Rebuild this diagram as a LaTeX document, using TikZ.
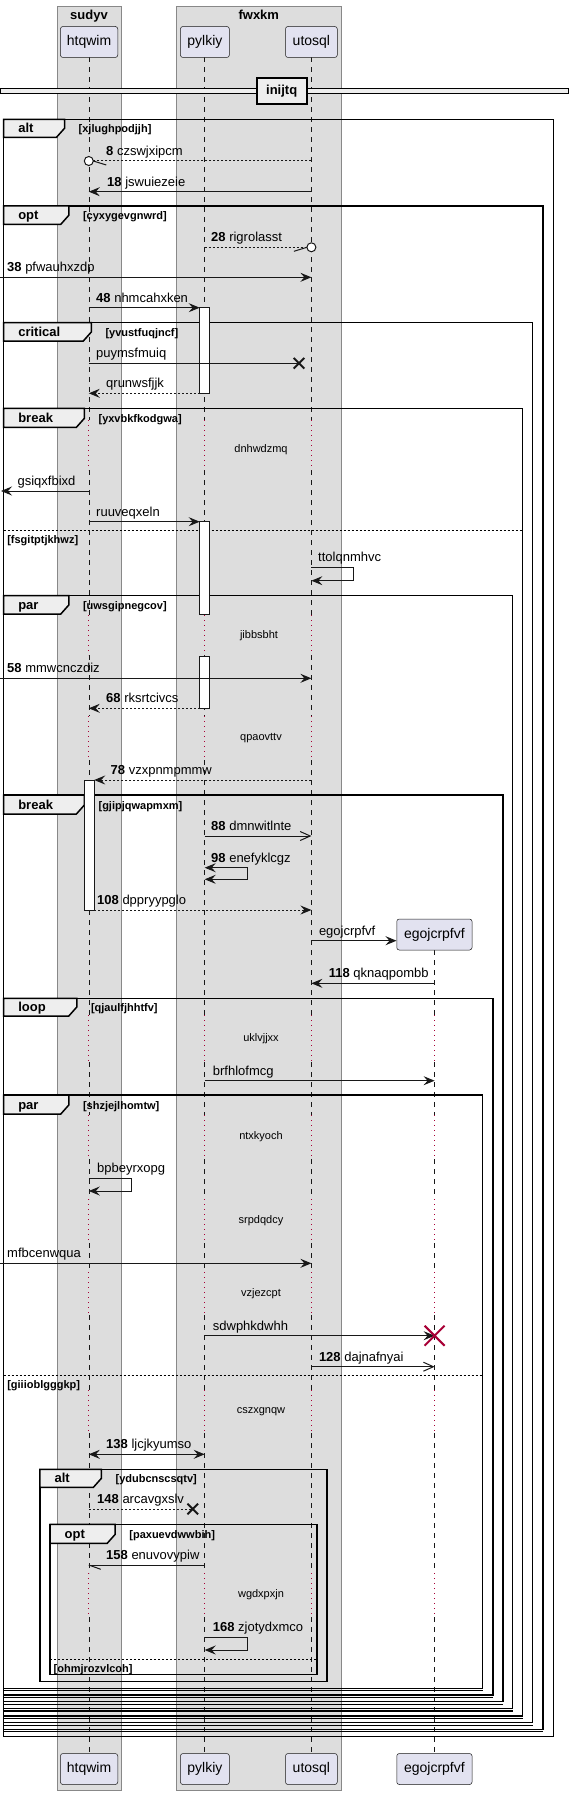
\documentclass[tikz,border=0pt]{standalone}
\usepackage{fontspec}
\setmainfont{Liberation Sans}
\usetikzlibrary{arrows.meta,calc}
\definecolor{grpfill}{HTML}{DDDDDD}
\definecolor{grpline}{HTML}{888888}
\definecolor{partfill}{HTML}{E2E2F0}
\definecolor{ink}{HTML}{181818}
\definecolor{tabfill}{HTML}{EEEEEE}
\definecolor{delayred}{HTML}{A80036}
\newcommand\fmsg{\fontsize{13}{15}\selectfont}
\newcommand\fpart{\fontsize{14}{16}\selectfont}
\newcommand\fsmall{\fontsize{11}{13}\selectfont}
% L T R B tabR tabB label cond name
\newcommand\grpframe[9]{%
  \draw[frm] (#1,#2) rectangle (#3,#4);
  \filldraw[frm,fill=tabfill] (#1,#2) -- (#5,#2) -- (#5,#6-9) -- (#5-8,#6) -- (#1,#6) -- cycle;
  \node[frlab] (#9l) at (#1+14.5,#6-5) {#7};
  \node[frcond] (#9c) at (#5+14,#6-5) {#8};
}
\newcommand\elseline[5]{% L R y label name
  \draw[elsel] (#1,#3) -- (#2,#3);
  \node[frcond] (#5) at (#1+3.5,#3+13) {#4};
}
\begin{document}
\begin{tikzpicture}[x=1pt,y=-1pt,
  grpbox/.style={draw=grpline,fill=grpfill,line width=1pt},
  grptitle/.style={font=\fmsg\bfseries,anchor=base,inner sep=0pt},
  part/.style={draw=ink,fill=partfill,rounded corners=2.5pt,line width=0.5pt,minimum height=31pt,inner sep=0pt,font=\fpart},
  life/.style={draw=ink,line width=0.5pt,dash pattern=on 5pt off 5pt},
  delayl/.style={draw=delayred,line width=0.8pt,dash pattern=on 1pt off 4pt},
  frm/.style={draw=black,line width=1.5pt},
  elsel/.style={draw=black,line width=1pt,dash pattern=on 2pt off 2pt},
  frlab/.style={anchor=base west,inner sep=0pt,font=\fmsg\bfseries},
  frcond/.style={anchor=base west,inner sep=0pt,font=\fsmall\bfseries},
  mlab/.style={anchor=base west,inner sep=0pt,font=\fmsg},
  dlab/.style={anchor=center,inner sep=0pt,font=\fsmall},
  msg/.style={draw=ink,line width=1pt},
  dmsg/.style={msg,dash pattern=on 2pt off 2pt},
  fa/.style={-{Stealth[length=11pt,width=9pt,inset=4pt]}},
  fab/.style={{Stealth[length=11pt,width=9pt,inset=4pt]}-{Stealth[length=11pt,width=9pt,inset=4pt]}},
  oa/.style={-{Straight Barb[length=10pt,width=9pt]}},
  act/.style={draw=ink,fill=white,line width=1pt},
  lost/.style={draw=ink,line width=2pt},
  kill/.style={draw=delayred,line width=2pt}
]
\useasboundingbox (0,0) rectangle (568,1795);
% groups
\node[grpbox,minimum width=64.9pt,minimum height=1784pt,anchor=north west,inner sep=0pt] (gsudyv) at (56.5,6) {};
\node[grpbox,minimum width=164.9pt,minimum height=1784pt,anchor=north west,inner sep=0pt] (gfwxkm) at (176.4,6) {};
\node[grptitle] (tsudyv) at (89,19.5) {sudyv};
\node[grptitle] (tfwxkm) at (258.8,19.5) {fwxkm};
% lifeline x
\coordinate (h) at (88.8,0);
\coordinate (p) at (204.7,0);
\coordinate (u) at (311.4,0);
\coordinate (e) at (434.6,0);
% lifelines
\foreach \c in {h,p,u}{
  \foreach \a/\b in {57.3/420,470/615,655/716,760/1015,1062/1115,1159/1199,1243/1272,1315/1390,1433/1573,1617/1753.3}
    \draw[life] (\c |- 0,\a) -- (\c |- 0,\b);
}
\foreach \a/\b in {950/1015,1062/1115,1159/1199,1243/1272,1315/1390,1433/1573,1617/1753.3}
  \draw[life] (e |- 0,\a) -- (e |- 0,\b);
\foreach \c in {h,p,u}{
  \foreach \a/\b in {420/470,615/655,716/760}
    \draw[delayl] (\c |- 0,\a) -- (\c |- 0,\b);
}
\foreach \c in {h,p,u,e}{
  \foreach \a/\b in {1015/1062,1115/1159,1199/1243,1272/1315,1390/1433,1573/1617}
    \draw[delayl] (\c |- 0,\a) -- (\c |- 0,\b);
}
% participants
\node[part,minimum width=57.3pt] (htqwimT) at (89.1,42) {htqwim};
\node[part,minimum width=48.9pt] (pylkiyT) at (204.9,42) {pylkiy};
\node[part,minimum width=51.8pt] (utosqlT) at (311.4,42) {utosql};
\node[part,minimum width=57.3pt] (htqwimB) at (89.1,1769) {htqwim};
\node[part,minimum width=48.9pt] (pylkiyB) at (204.9,1769) {pylkiy};
\node[part,minimum width=51.8pt] (utosqlB) at (311.4,1769) {utosql};
\node[part,minimum width=75.3pt] (egoT) at (434.4,934.5) {egojcrpfvf};
\node[part,minimum width=75.3pt] (egoB) at (434.4,1769) {egojcrpfvf};
% divider
\filldraw[draw=black,line width=1pt,fill=tabfill] (0,88.3) rectangle (568,93.3);
\node[draw=black,line width=1.8pt,fill=tabfill,minimum width=50pt,minimum height=26pt,inner sep=0pt,font=\fmsg\bfseries] (inijtq) at (281.7,90.8) {inijtq};
% frames
\grpframe{3.6}{119.3}{553.3}{1736.7}{64.5}{137.3}{alt}{[xjlughpodjjh]}{f1}
\grpframe{3.6}{206}{542.8}{1729.3}{68.8}{224.3}{opt}{[cyxygevgnwrd]}{f2}
\grpframe{3.6}{322.7}{532.6}{1722.7}{91.3}{341}{critical}{[yvustfuqjncf]}{f3}
\grpframe{3.6}{408.3}{522.5}{1716}{84.4}{427.3}{break}{[yxvbkfkodgwa]}{f4}
\grpframe{3.6}{595.7}{512.7}{1708.3}{68.8}{614}{par}{[uwsgipnegcov]}{f5}
\grpframe{3.6}{795}{502.9}{1701.7}{84.4}{814}{break}{[gjipjqwapmxm]}{f6}
\grpframe{3.6}{998.3}{492.8}{1695}{76.8}{1016}{loop}{[qjaulfjhhtfv]}{f7}
\grpframe{3.6}{1095}{482.6}{1688.3}{68.8}{1114}{par}{[shzjejlhomtw]}{f8}
\grpframe{39.9}{1469.3}{326.8}{1681.7}{101.4}{1487.3}{alt}{[ydubcnscsqtv]}{f9}
\grpframe{50}{1524.3}{317}{1674.3}{115.2}{1543.3}{opt}{[paxuevdwwbih]}{f10}
\foreach \y/\r in {1690.7/482.6,1697.3/492.8,1704.3/502.9,1711/512.7,1718.7/522.5,1725.3/532.6,1731.7/542.8}
  \draw[frm] (3.6,\y) -- (\r,\y);
\elseline{3.6}{522.5}{530}{[fsgitptjkhwz]}{e1}
\elseline{3.6}{482.6}{1375}{[giiioblgggkp]}{e2}
\elseline{50}{317}{1659.3}{[ohmjrozvlcoh]}{e3}
% activations
\draw[act] (199.7,307.7) rectangle (209.7,393.3);
\draw[act] (199.7,521.7) rectangle (209.7,614.7);
\draw[act] (199.7,656) rectangle (209.7,708.3);
\draw[act] (84.2,780) rectangle (94.2,910);
% delays
\node[dlab] (d1) at (261,450) {dnhwdzmq};
\node[dlab] (d2) at (259,636) {jibbsbht};
\node[dlab] (d3) at (261,738.3) {qpaovttv};
\node[dlab] (d4) at (261,1038.3) {uklvjjxx};
\node[dlab] (d5) at (261,1136.7) {ntxkyoch};
\node[dlab] (d6) at (261,1221) {srpdqdcy};
\node[dlab] (d7) at (261,1293.3) {vzjezcpt};
\node[dlab] (d8) at (261,1411.7) {cszxgnqw};
\node[dlab] (d9) at (261,1595) {wgdxpxjn};
% messages
% 8
\draw[dmsg] (u |- 0,161) -- ($(h |- 0,161)+(4.5,0)$);
\draw[msg,fill=white] (h |- 0,161) circle[radius=4.5pt];
\draw[msg] ($(h |- 0,161)+(4.5,0)$) -- ++(13,4);
\node[mlab] (m8) at (106,155.5) {\textbf{8} czswjxipcm};
% 18
\draw[msg,fa] (u |- 0,191.7) -- (h |- 0,191.7);
\node[mlab] (m18) at (107,186.2) {\textbf{18} jswuiezeie};
% 28
\draw[dmsg] (p |- 0,247.3) -- ($(u |- 0,247.3)+(-4.5,0)$);
\draw[msg,fill=white] (u |- 0,247.3) circle[radius=4.5pt];
\draw[msg] ($(u |- 0,247.3)+(-4.5,0)$) -- ++(-13,4);
\node[mlab] (m28) at (211,241.8) {\textbf{28} rigrolasst};
% 38
\coordinate (l38) at (0,277.3);
\draw[msg,fa] (l38) -- (u |- 0,277.3);
\node[mlab] (m38) at (7,271.8) {\textbf{38} pfwauhxzdp};
% 48
\draw[msg,fa] (h |- 0,307.7) -- (199.7,307.7);
\node[mlab] (m48) at (96,302.2) {\textbf{48} nhmcahxken};
% puymsfmuiq
\coordinate (x1) at (299,363.3);
\draw[msg] (h |- 0,363.3) -- (x1);
\draw[lost] ($(x1)+(-5.3,-5.3)$) -- ($(x1)+(5.3,5.3)$) ($(x1)+(-5.3,5.3)$) -- ($(x1)+(5.3,-5.3)$);
\node[mlab] (mpuy) at (96,357.8) {puymsfmuiq};
% qrunwsfjjk
\draw[dmsg,fa] (199.7,393.3) -- (h |- 0,393.3);
\node[mlab] (mqru) at (106,387.8) {qrunwsfjjk};
% gsiqxfbixd
\coordinate (l1) at (1,491);
\draw[msg,fa] (h |- 0,491) -- (l1);
\node[mlab] (mgsi) at (17.4,485.5) {gsiqxfbixd};
% ruuveqxeln
\draw[msg,fa] (h |- 0,521.7) -- (199.7,521.7);
\node[mlab] (mruu) at (96,516.2) {ruuveqxeln};
% ttolqnmhvc
\draw[msg,fa] (u |- 0,567.3) -- (353,567.3) -- (353,580.7) -- (u |- 0,580.7);
\node[mlab] (mtto) at (318,561.8) {ttolqnmhvc};
% 58
\coordinate (l58) at (0,678.3);
\draw[msg,fa] (l58) -- (u |- 0,678.3);
\node[mlab] (m58) at (7,672.8) {\textbf{58} mmwcnczdiz};
% 68
\draw[dmsg,fa] (199.7,708.3) -- (h |- 0,708.3);
\node[mlab] (m68) at (106,702.8) {\textbf{68} rksrtcivcs};
% 78
\draw[dmsg,fa] (u |- 0,780) -- (94.2,780);
\node[mlab] (m78) at (110.5,774.5) {\textbf{78} vzxpnmpmmw};
% 88
\draw[msg,oa] (p |- 0,836) -- (u |- 0,836);
\node[mlab] (m88) at (211,830.5) {\textbf{88} dmnwitlnte};
% 98
\draw[msg,fab] (p |- 0,867.7) -- (247.5,867.7) -- (247.5,879.3) -- (p |- 0,879.3);
\node[mlab] (m98) at (211,862.2) {\textbf{98} enefyklcgz};
% 108
\draw[dmsg,fa] (94.2,910) -- (u |- 0,910);
\node[mlab] (m108) at (97,904.5) {\textbf{108} dppryypglo};
% create
\draw[msg,fa] (u |- 0,940.7) -- (egoT.west |- 0,940.7);
\node[mlab] (mcre) at (318.8,935.2) {egojcrpfvf};
% 118
\draw[msg,fa] (e |- 0,983.3) -- (u |- 0,983.3);
\node[mlab] (m118) at (328.6,977.8) {\textbf{118} qknaqpombb};
% brfhlofmcg
\draw[msg,fa] (p |- 0,1080.7) -- (e |- 0,1080.7);
\node[mlab] (mbrf) at (212.7,1075.2) {brfhlofmcg};
% bpbeyrxopg
\draw[msg,fa] (h |- 0,1178.3) -- (131.2,1178.3) -- (131.2,1191) -- (h |- 0,1191);
\node[mlab] (mbpb) at (97,1172.8) {bpbeyrxopg};
% mfbcenwqua
\coordinate (l2) at (0,1263.3);
\draw[msg,fa] (l2) -- (u |- 0,1263.3);
\node[mlab] (mmfb) at (7,1257.8) {mfbcenwqua};
% sdwphkdwhh
\coordinate (x2) at (e |- 0,1335.7);
\draw[msg,fa] (p |- 0,1335.7) -- (x2);
\draw[kill] ($(x2)+(-10,-10)$) -- ($(x2)+(10,10)$) ($(x2)+(-10,10)$) -- ($(x2)+(10,-10)$);
\node[mlab] (msdw) at (212.7,1330.2) {sdwphkdwhh};
% 128
\draw[msg,oa] (u |- 0,1366.7) -- (e |- 0,1366.7);
\node[mlab] (m128) at (318.8,1361.2) {\textbf{128} dajnafnyai};
% 138
\draw[msg,fab] (h |- 0,1454.3) -- (p |- 0,1454.3);
\node[mlab] (m138) at (106,1448.8) {\textbf{138} ljcjkyumso};
% 148
\coordinate (x3) at (192.8,1509);
\draw[dmsg] (h |- 0,1509) -- (x3);
\draw[lost] ($(x3)+(-5.3,-5.3)$) -- ($(x3)+(5.3,5.3)$) ($(x3)+(-5.3,5.3)$) -- ($(x3)+(5.3,-5.3)$);
\node[mlab] (m148) at (97,1503.5) {\textbf{148} arcavgxslv};
% 158
\draw[msg] (p |- 0,1565) -- (h |- 0,1565);
\draw[msg] (h |- 0,1565) -- ++(12,4.3);
\node[mlab] (m158) at (106,1559.5) {\textbf{158} enuvovypiw};
% 168
\draw[msg,fa] (p |- 0,1637.3) -- (247.5,1637.3) -- (247.5,1650) -- (p |- 0,1650);
\node[mlab] (m168) at (212.7,1631.8) {\textbf{168} zjotydxmco};
\end{tikzpicture}
\end{document}
